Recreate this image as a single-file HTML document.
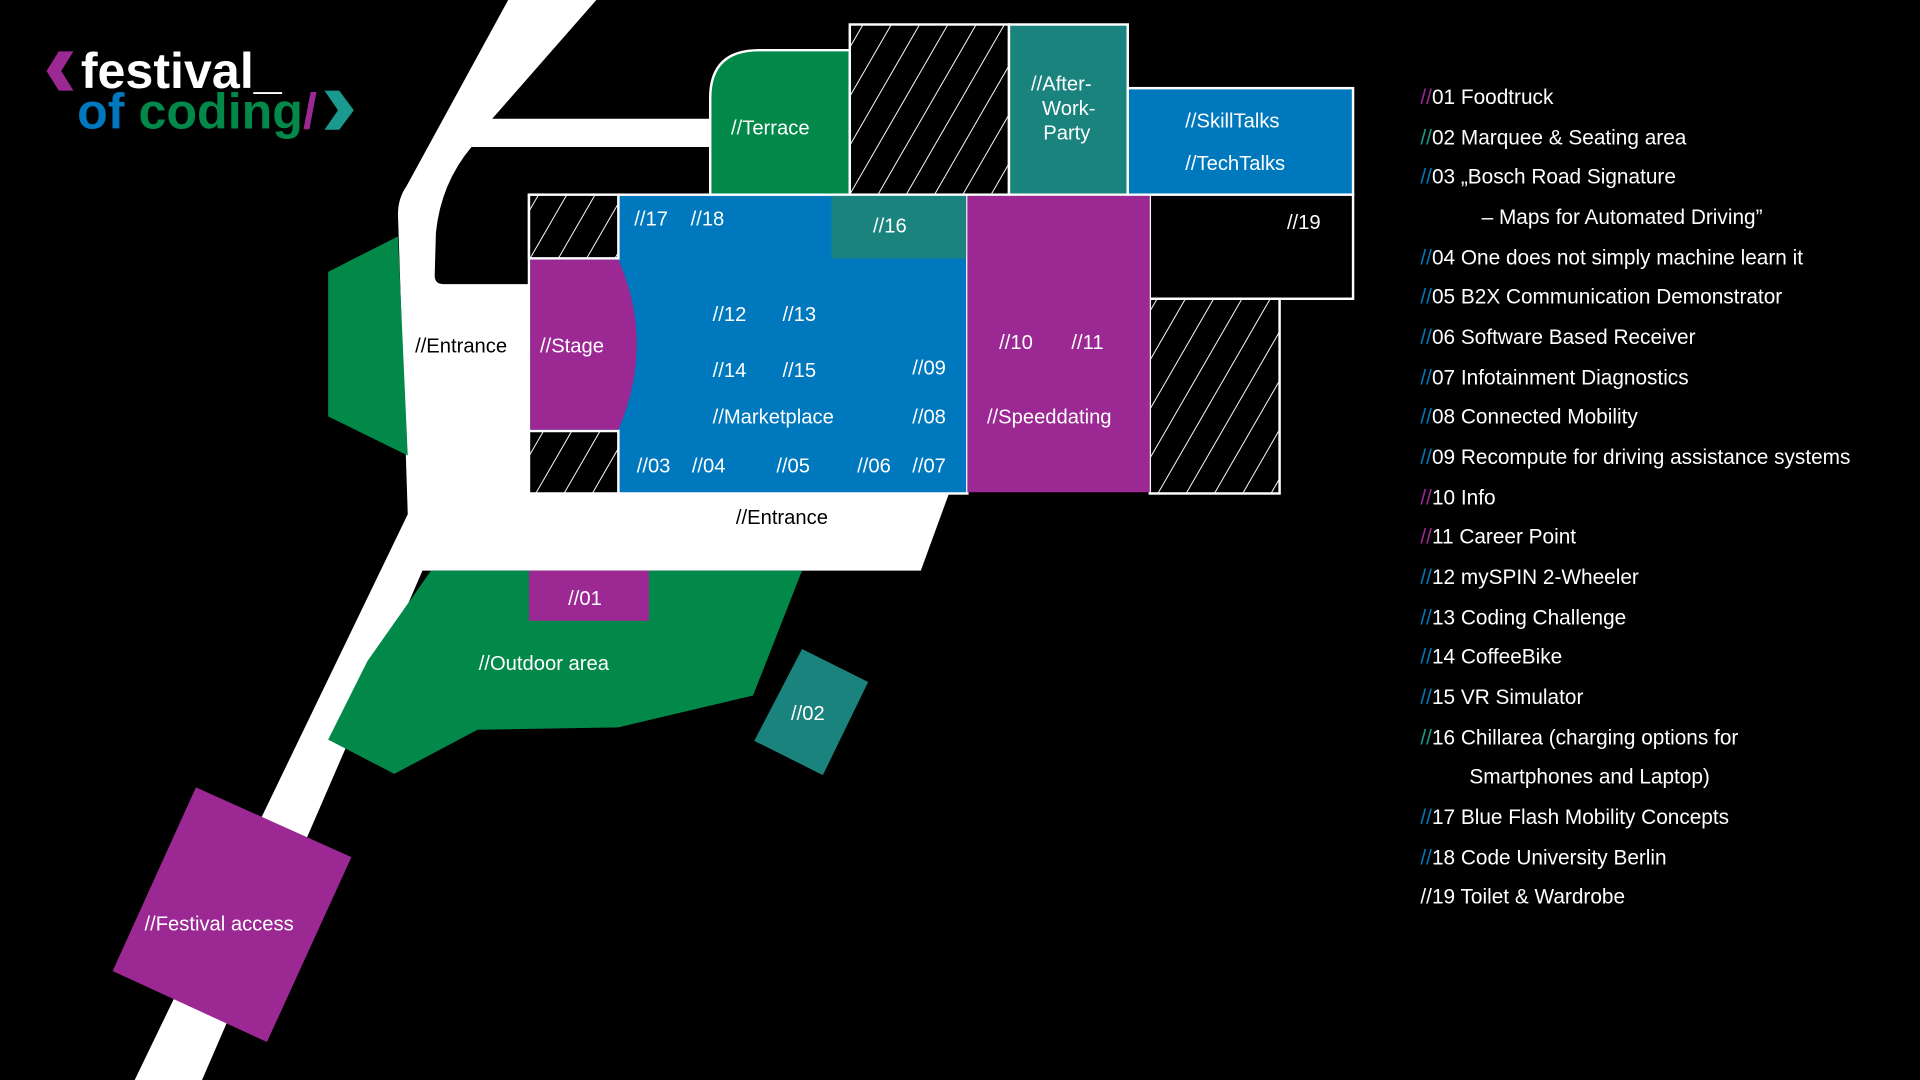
<!DOCTYPE html>
<html><head><meta charset="utf-8"><style>
html,body{margin:0;padding:0;background:#000;}
svg{display:block}
text{font-family:"Liberation Sans",sans-serif;fill:#fff;font-size:16.5px}
.lg text{font-size:17px}
</style></head><body>
<svg width="1920" height="1080" viewBox="0 0 1568 882" xmlns="http://www.w3.org/2000/svg">
<defs>
<pattern id="h" width="20" height="20" patternUnits="userSpaceOnUse" patternTransform="rotate(30)">
<rect width="20" height="20" fill="#000"/><line x1="0" y1="0" x2="0" y2="20" stroke="#fff" stroke-width="1.6"/>
</pattern>
</defs>
<rect width="1568" height="882" fill="#000"/>
<path d="M415 0 L487 0 L402 97 L580 97 L580 160 L432 160 L432 403 L775 403 L752 466 L345 466 L165 882 L110 882 L333 420 L325 175 Q325 162 332 152 Z" fill="#fff"/>
<path d="M385 120 L580 120 L580 160 L432 160 L432 232 L362 232 Q355 232 355 225 L356 190 Q360 150 385 120 Z" fill="#000"/>
<polygon points="268,222 325,193 333,372 268,340" fill="#02894a"/>
<polygon points="352,466 655,466 615,568 505,594 390,596 322,632 268,604 300,540" fill="#02894a"/>
<rect x="432" y="466" width="98" height="41" fill="#9c2894"/>
<polygon points="655,530 709,557 672,633 616,605" fill="#1a837e"/>
<polygon points="160,643 287,700 218,851 92,793" fill="#9c2894"/>
<g stroke="#fff" stroke-width="2">
<path d="M580 159 L580 80 Q580 41 620 41 L694 41 L694 159 Z" fill="#02894a"/>
<rect x="694" y="20" width="130" height="139" fill="url(#h)"/>
<rect x="824" y="20" width="97" height="139" fill="#1a837e"/>
<rect x="921" y="72" width="184" height="87" fill="#0078be"/>
<rect x="432" y="159" width="358" height="244" fill="#0078be"/>
<rect x="432" y="159" width="73" height="52" fill="url(#h)"/>
<rect x="432" y="352" width="73" height="51" fill="url(#h)"/>
<rect x="939" y="159" width="166" height="85" fill="#000"/>
<rect x="939" y="244" width="106" height="159" fill="url(#h)"/>
</g>
<rect x="679" y="160" width="110" height="51" fill="#1a837e"/>
<rect x="790" y="160" width="149" height="242" fill="#9c2894"/>
<path d="M433 212 L505 212 Q535 281 505 351 L433 351 Z" fill="#9c2894"/>
<polygon points="48,42 60,42 50,58 60,74 48,74 38,58" fill="#9c2894"/>
<text x="66" y="72" style="font-size:41px;font-weight:bold">festival_</text>
<text x="63" y="105" style="font-size:41px;font-weight:bold"><tspan style="fill:#0078be">of</tspan> <tspan style="fill:#02894a">coding</tspan><tspan style="fill:#9c2894">/</tspan></text>
<polygon points="265,74 277,74 289,90 277,106 265,106 276,90" fill="#1a9a8e"/>
<g>
<text x="597" y="110">//Terrace</text>
<text x="842" y="74">//After-</text>
<text x="851" y="94">Work-</text>
<text x="852" y="114">Party</text>
<text x="968" y="104">//SkillTalks</text>
<text x="968" y="139">//TechTalks</text>
<text x="518" y="184">//17</text>
<text x="564" y="184">//18</text>
<text x="713" y="190">//16</text>
<text x="1051" y="187">//19</text>
<text x="441" y="288">//Stage</text>
<text x="339" y="288" style="fill:#000">//Entrance</text>
<text x="582" y="262">//12</text>
<text x="639" y="262">//13</text>
<text x="582" y="308">//14</text>
<text x="639" y="308">//15</text>
<text x="745" y="306">//09</text>
<text x="582" y="346">//Marketplace</text>
<text x="745" y="346">//08</text>
<text x="520" y="386">//03</text>
<text x="565" y="386">//04</text>
<text x="634" y="386">//05</text>
<text x="700" y="386">//06</text>
<text x="745" y="386">//07</text>
<text x="816" y="285">//10</text>
<text x="875" y="285">//11</text>
<text x="806" y="346">//Speeddating</text>
<text x="601" y="428" style="fill:#000">//Entrance</text>
<text x="464" y="494">//01</text>
<text x="391" y="547">//Outdoor area</text>
<text x="646" y="588">//02</text>
<text x="118" y="760">//Festival access</text>
</g>
<g class="lg">
<text x="1160" y="85"><tspan style="fill:#9c2894">//</tspan>01 Foodtruck</text>
<text x="1160" y="118"><tspan style="fill:#1a9a8e">//</tspan>02 Marquee &amp; Seating area</text>
<text x="1160" y="150"><tspan style="fill:#0078be">//</tspan>03 „Bosch Road Signature</text>
<text x="1210" y="183">– Maps for Automated Driving”</text>
<text x="1160" y="216"><tspan style="fill:#0078be">//</tspan>04 One does not simply machine learn it</text>
<text x="1160" y="248"><tspan style="fill:#0078be">//</tspan>05 B2X Communication Demonstrator</text>
<text x="1160" y="281"><tspan style="fill:#0078be">//</tspan>06 Software Based Receiver</text>
<text x="1160" y="314"><tspan style="fill:#0078be">//</tspan>07 Infotainment Diagnostics</text>
<text x="1160" y="346"><tspan style="fill:#0078be">//</tspan>08 Connected Mobility</text>
<text x="1160" y="379"><tspan style="fill:#0078be">//</tspan>09 Recompute for driving assistance systems</text>
<text x="1160" y="412"><tspan style="fill:#9c2894">//</tspan>10 Info</text>
<text x="1160" y="444"><tspan style="fill:#9c2894">//</tspan>11 Career Point</text>
<text x="1160" y="477"><tspan style="fill:#0078be">//</tspan>12 mySPIN 2-Wheeler</text>
<text x="1160" y="510"><tspan style="fill:#0078be">//</tspan>13 Coding Challenge</text>
<text x="1160" y="542"><tspan style="fill:#0078be">//</tspan>14 CoffeeBike</text>
<text x="1160" y="575"><tspan style="fill:#0078be">//</tspan>15 VR Simulator</text>
<text x="1160" y="608"><tspan style="fill:#1a9a8e">//</tspan>16 Chillarea (charging options for</text>
<text x="1200" y="640">Smartphones and Laptop)</text>
<text x="1160" y="673"><tspan style="fill:#0078be">//</tspan>17 Blue Flash Mobility Concepts</text>
<text x="1160" y="706"><tspan style="fill:#0078be">//</tspan>18 Code University Berlin</text>
<text x="1160" y="738">//19 Toilet &amp; Wardrobe</text>
</g>
</svg>
</body></html>
